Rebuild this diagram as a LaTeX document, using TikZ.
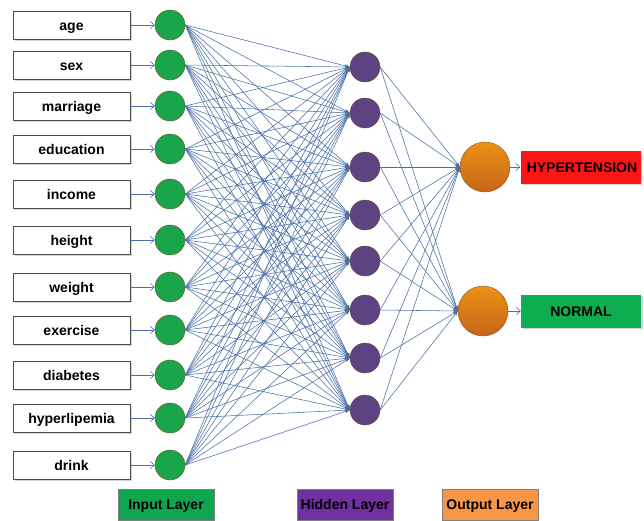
\documentclass[tikz,border=0pt]{standalone}
\usepackage{fontspec}
\setmainfont{Liberation Sans}
\usetikzlibrary{arrows.meta,shadows}
\definecolor{ingreen}{HTML}{1AA54B}
\definecolor{hidpurple}{HTML}{5E4383}
\definecolor{outorange}{HTML}{E8761C}
\definecolor{linkblue}{HTML}{4A6EA6}
\definecolor{leggreen}{HTML}{10A650}
\definecolor{legpurple}{HTML}{7030A0}
\definecolor{legorange}{HTML}{F79646}
\definecolor{hyred}{HTML}{FF1414}
\definecolor{nogreen}{HTML}{0DAE50}
\begin{document}
\begin{tikzpicture}[x=1pt,y=-1pt,
  lbl/.style={font=\bfseries\fontsize{14}{16}\selectfont, text height=11pt, text depth=1pt, inner sep=0pt},
  inbox/.style={lbl, draw=black!70, fill=white, minimum width=117pt, minimum height=28pt,
     drop shadow={shadow xshift=1.5pt,shadow yshift=-1.5pt,opacity=0.35}},
  incirc/.style={circle, draw=brown!60!black, fill=ingreen, minimum size=30pt, inner sep=0pt},
  hidcirc/.style={circle, draw=brown!60!black, fill=hidpurple, minimum size=30pt, inner sep=0pt},
  outcirc/.style={circle, draw=brown!70!black, top color=outorange!80!yellow, bottom color=outorange!85!black, minimum size=50pt, inner sep=0pt},
  outbox/.style={lbl, minimum width=120pt, minimum height=33pt,
     drop shadow={shadow xshift=1.5pt,shadow yshift=-1.5pt,opacity=0.35}},
  legbox/.style={lbl, draw=black!50, minimum width=96pt, minimum height=31pt},
  link/.style={draw=linkblue, line width=0.55pt, -{Stealth[length=5pt,width=3.5pt]}},
  feed/.style={draw=linkblue, line width=0.6pt, -{Straight Barb[length=4pt,width=7pt]}}
]
\useasboundingbox (0,0) rectangle (644,520);
% input boxes and circles
\foreach \name/\lab/\y in {a/age/25, b/sex/65, c/marriage/106, d/education/149, e/income/194, f/height/240, g/weight/287, h/exercise/330, i/diabetes/375, j/hyperlipemia/418, k/drink/465}{
  \node[inbox] (box\name) at (71.5,\y) {\lab};
  \node[incirc] (in\name) at (170,\y) {};
  \draw[feed] (box\name) -- (in\name);
}
% hidden
\foreach \n/\y in {1/67, 2/113, 3/167, 4/215, 5/261, 6/310, 7/358, 8/410}{
  \node[hidcirc] (h\n) at (365,\y) {};
}
% outputs
\node[outcirc] (o1) at (485,167) {};
\node[outcirc] (o2) at (483,311) {};
\node[outbox, fill=hyred] (t1) at (580.5,167) {\hspace{3pt}HYPERTENSION};
\node[outbox, fill=nogreen] (t2) at (581,311) {NORMAL};
% links
\foreach \i in {a,b,c,d,e,f,g,h,i,j,k}{
  \foreach \n in {1,...,8}{
    \draw[link] (in\i.east) -- (h\n.west);
  }
}
\foreach \n in {1,...,8}{
  \draw[link] (h\n.east) -- (o1.west);
  \draw[link] (h\n.east) -- (o2.west);
}
\draw[feed] (o1) -- (t1);
\draw[feed] (o2) -- (t2);
% legend
\node[legbox, fill=leggreen] (l1) at (166,504.5) {Input Layer};
\node[legbox, fill=legpurple] (l2) at (345,504.5) {Hidden Layer};
\node[legbox, fill=legorange] (l3) at (490,504.5) {Output Layer};
\end{tikzpicture}
\end{document}
